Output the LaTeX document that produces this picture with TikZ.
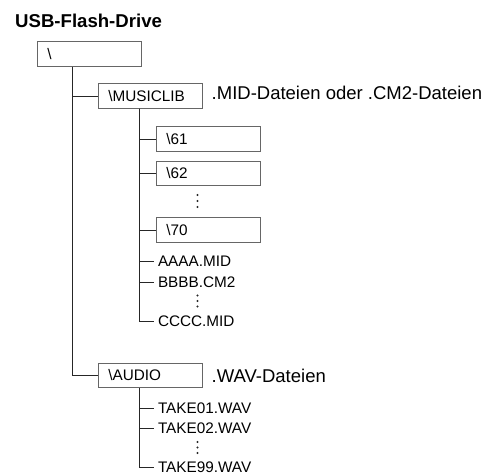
\documentclass[tikz,border=0pt]{standalone}
\usepackage{fontspec}
\setmainfont{Liberation Sans}
\usetikzlibrary{positioning}

\begin{document}
\begin{tikzpicture}[x=1pt, y=-1pt,
	ordner/.style={rectangle, draw=black!60, line width=0.8pt, anchor=west, align=left,
	               text width=84pt, minimum height=24.5pt, inner xsep=10pt, inner ysep=0pt,
	               font=\fontsize{15.3}{18}\selectfont},
	datei/.style={anchor=west, inner xsep=3.5pt, inner ysep=0pt, font=\fontsize{15.3}{18}\selectfont},
	inhalt/.style={anchor=base west, inner sep=0pt, font=\fontsize{18.5}{22}\selectfont},
	pkt/.style={circle, fill=black!85, inner sep=0pt, minimum size=2.2pt},
	ast/.style={draw=black!85, line width=0.8pt}
	]
\useasboundingbox (0,0) rectangle (489,475);
\node[anchor=base west, inner sep=0pt, font=\bfseries\fontsize{18.6}{22}\selectfont] (titel) at (15,27) {USB-Flash-Drive};

% Wurzel
\node[ordner] (root) at (37,54) {\textbackslash};
\coordinate (rt) at ([xshift=35pt]root.south west);

% MUSICLIB
\node[ordner] (musiclib) at (98,96) {\textbackslash MUSICLIB};
\node[inhalt] (midlbl) at (211.5,99.5) {.MID-Dateien oder .CM2-Dateien};
\coordinate (ml) at ([xshift=41pt]musiclib.south west);
\draw[ast] (rt) |- (musiclib.west);

\node[ordner] (d61) at (156,139) {\textbackslash 61};
\node[ordner] (d62) at (156,173.5) {\textbackslash 62};
\node[ordner] (d70) at (156,230) {\textbackslash 70};
\node[datei] (aaaa) at (154.3,261.5) {AAAA.MID};
\node[datei] (bbbb) at (154.3,282) {BBBB.CM2};
\node[datei] (cccc) at (154.3,321) {CCCC.MID};
\foreach \n in {d61,d62,d70,aaaa,bbbb,cccc}
	\draw[ast] (ml) |- (\n.west);

% AUDIO
\node[ordner] (audio) at (98,375.5) {\textbackslash AUDIO};
\node[inhalt] (wavlbl) at (211.5,382.7) {.WAV-Dateien};
\coordinate (au) at ([xshift=41pt]audio.south west);
\draw[ast] (rt) |- (audio.west);

\node[datei] (take1) at (154.3,408.5) {TAKE01.WAV};
\node[datei] (take2) at (154.3,428.5) {TAKE02.WAV};
\node[datei] (take99) at (154.3,467.5) {TAKE99.WAV};
\foreach \n in {take1,take2,take99}
	\draw[ast] (au) |- (\n.west);

% Auslassungspunkte
\foreach \y/\name in {195/a,201/b,207/c, 295.5/d,301/e,306.5/f, 442/g,447.5/h,453/i}
	\node[pkt] (pkt\name) at (197.5,\y) {};
\end{tikzpicture}
\end{document}
